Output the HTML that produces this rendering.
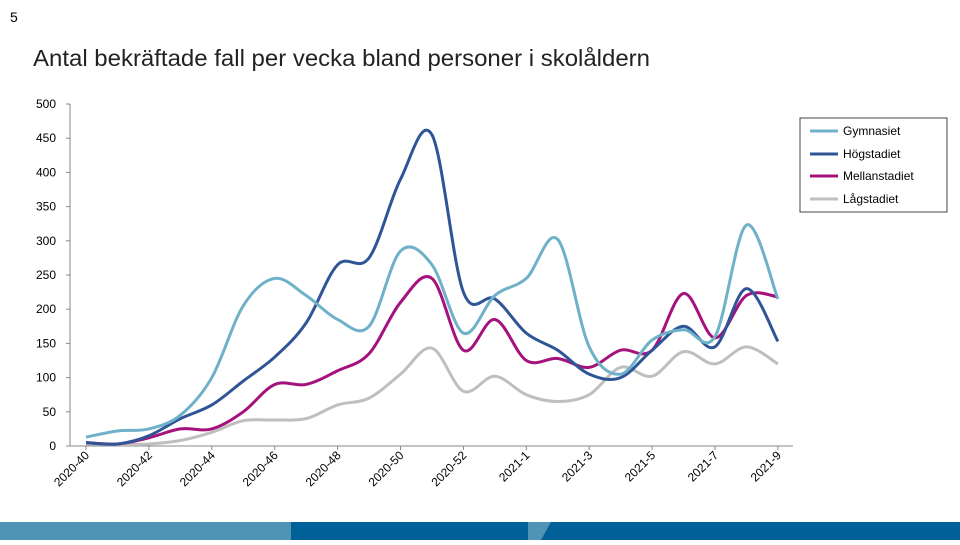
<!DOCTYPE html>
<html><head><meta charset="utf-8"><style>
body{margin:0;width:960px;height:540px;overflow:hidden;background:#fff;font-family:"Liberation Sans",sans-serif}
</style></head><body>
<svg id="s" width="960" height="540" xmlns="http://www.w3.org/2000/svg" font-family="Liberation Sans, sans-serif">
<text x="10" y="22" font-size="14">5</text>
<text x="33" y="66" font-size="23" fill="#222" textLength="617" lengthAdjust="spacingAndGlyphs">Antal bekräftade fall per vecka bland personer i skolåldern</text>
<rect x="0" y="522" width="960" height="18" fill="#006198"/>
<rect x="0" y="522" width="291" height="18" fill="#4f93b5"/>
<polygon points="528,522 551,522 541,540 528,540" fill="#4f93b5"/>
<line x1="70" y1="104" x2="70" y2="446" stroke="#888"/>
<line x1="70" y1="446" x2="793" y2="446" stroke="#888"/>
<g id="g"></g>
<rect x="800" y="118" width="147" height="94" fill="#fff" stroke="#444"/>
<line x1="810" y1="131" x2="838" y2="131" stroke="#6fb1c8" stroke-width="3"/>
<text x="843" y="135" font-size="12">Gymnasiet</text>
<line x1="810" y1="154" x2="838" y2="154" stroke="#2f5597" stroke-width="3"/>
<text x="843" y="158" font-size="12">Högstadiet</text>
<line x1="810" y1="176" x2="838" y2="176" stroke="#a5117d" stroke-width="3"/>
<text x="843" y="180" font-size="12">Mellanstadiet</text>
<line x1="810" y1="199" x2="838" y2="199" stroke="#bfbfbf" stroke-width="3"/>
<text x="843" y="203" font-size="12">Lågstadiet</text>
</svg>
<script>
var g=document.getElementById('g'),h='';
function X(i){return 86+i*31.45}function Y(v){return 446-v*0.684}
for(var v=0;v<=500;v+=50){h+='<text x="56" y="'+(Y(v)+4)+'" font-size="12" text-anchor="end">'+v+'</text><line x1="66" x2="70" y1="'+Y(v)+'" y2="'+Y(v)+'" stroke="#888"/>';}
var labs=['2020-40','2020-42','2020-44','2020-46','2020-48','2020-50','2020-52','2021-1','2021-3','2021-5','2021-7','2021-9'];
for(var k=0;k<12;k++){var x=X(k*2);h+='<line x1="'+x+'" x2="'+x+'" y1="446" y2="450" stroke="#888"/><text font-size="12" text-anchor="end" transform="translate('+(x+4)+',456) rotate(-45)">'+labs[k]+'</text>';}
var D=[
['#bfbfbf',[3,2,3,8,20,37,38,40,60,70,105,143,80,102,75,65,75,115,102,138,120,145,120]],
['#a5117d',[5,3,12,25,25,50,90,90,110,135,210,245,140,185,125,128,115,140,140,223,158,220,218]],
['#2f5597',[5,3,15,40,60,95,130,180,265,275,390,455,225,215,165,140,105,100,140,175,145,230,153]],
['#6fb1c8',[13,22,25,45,100,205,245,220,185,175,285,265,165,220,245,302,145,105,155,170,160,323,215]]];
D.forEach(function(s){var p=s[1].map(function(v,i){return[X(i),Y(v)]});var d='M'+p[0][0]+','+p[0][1];
for(var i=0;i<p.length-1;i++){var a=p[i-1]||p[i],b=p[i],c=p[i+1],e=p[i+2]||c;
d+=' C'+(b[0]+(c[0]-a[0])/6)+','+(b[1]+(c[1]-a[1])/6)+' '+(c[0]-(e[0]-b[0])/6)+','+(c[1]-(e[1]-b[1])/6)+' '+c[0]+','+c[1];}
h+='<path d="'+d+'" fill="none" stroke="'+s[0]+'" stroke-width="3"/>';});
g.innerHTML=h;
</script>
</body></html>
